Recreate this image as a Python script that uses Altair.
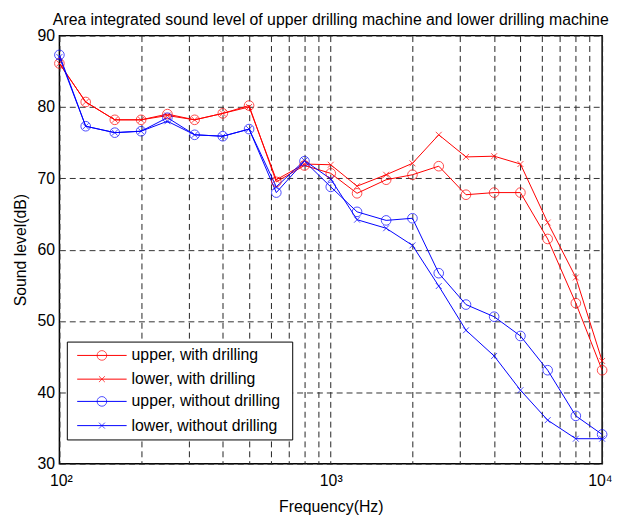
import altair as alt
import pandas as pd

freq = [100, 125, 160, 200, 250, 315, 400, 500, 630, 800, 1000, 1250, 1600,
        2000, 2500, 3150, 4000, 5000, 6300, 8000, 10000]
upper_with = [86.1, 80.7, 78.2, 78.2, 79.0, 78.2, 79.1, 80.2, 69.5, 71.8, 70.7,
              67.9, 69.8, 70.5, 71.7, 67.7, 68.0, 68.0, 61.5, 52.5, 43.1]
lower_with = [86.1, 80.7, 78.2, 78.2, 78.8, 78.2, 79.1, 80.0, 69.8, 72.0, 71.9,
              68.9, 70.5, 72.1, 76.1, 73.0, 73.1, 72.0, 63.8, 56.1, 44.4]
upper_without = [87.3, 77.3, 76.4, 76.6, 78.5, 76.1, 75.9, 76.9, 68.0, 72.4, 68.8,
                 65.3, 64.1, 64.4, 56.7, 52.3, 50.6, 47.9, 43.1, 36.7, 34.1]
lower_without = [87.0, 77.3, 76.4, 76.6, 78.0, 76.1, 75.9, 76.9, 68.8, 72.5, 69.9,
                 64.2, 63.0, 60.6, 54.9, 48.7, 45.1, 40.3, 36.1, 33.5, 33.5]

series_names = ["upper, with drilling", "lower, with drilling",
                "upper, without drilling", "lower, without drilling"]
series_values = [upper_with, lower_with, upper_without, lower_without]
series_colors = ["#ff0000", "#ff0000", "#0000ff", "#0000ff"]
series_markers = ["o", "x", "o", "x"]

x_ticks = [100, 200, 300, 400, 500, 600, 700, 800, 900, 1000, 2000, 3000, 4000,
           5000, 6000, 7000, 8000, 9000, 10000]
y_ticks = [30, 40, 50, 60, 70, 80, 90]

X_PATH = "M-1,-1L1,1M-1,1L1,-1"
FONT = "Liberation Sans"

rows = []
for i, (name, vals, mk) in enumerate(zip(series_names, series_values, series_markers)):
    for f, v in zip(freq, vals):
        rows.append({"freq": f, "level": v, "series": name, "marker": mk, "order": i})
df = pd.DataFrame(rows)

color_scale = alt.Scale(domain=series_names, range=series_colors)
shape_scale = alt.Scale(domain=["o", "x"], range=["circle", X_PATH])

x_enc = alt.X("freq:Q", scale=alt.Scale(type="log", domain=[100, 10000], nice=False),
              axis=alt.Axis(values=x_ticks, title="Frequency(Hz)",
                            labelExpr="datum.value == 100 ? '10²' : datum.value == 1000 ? '10³' : datum.value == 10000 ? '10⁴' : ''",
                            grid=True, gridDash=[6, 4], gridColor="#222", gridWidth=1,
                            ticks=False, domain=False, labelPadding=9,
                            labelFontSize=16, titleFontSize=16, titlePadding=10,
                            labelFont=FONT, titleFont=FONT, labelColor="#000",
                            titleColor="#000", titleFontWeight="normal",
                            labelFlush=True, labelFlushOffset=10))
y_enc = alt.Y("level:Q", scale=alt.Scale(domain=[30, 90], nice=False, zero=False),
              axis=alt.Axis(values=y_ticks, title="Sound level(dB)", grid=True,
                            gridDash=[6, 4], gridColor="#333", gridWidth=1,
                            ticks=False, domain=False, labelPadding=5,
                            labelFontSize=16, titleFontSize=16, titlePadding=8,
                            labelFont=FONT, titleFont=FONT, labelColor="#000",
                            titleColor="#000", titleFontWeight="normal",
                            labelFlush=False))

base = alt.Chart(df)
lines = base.mark_line(strokeWidth=1).encode(
    x=x_enc, y=y_enc,
    color=alt.Color("series:N", scale=color_scale, legend=None),
    detail="series:N",
    order=alt.Order("freq:Q"),
)
points = base.mark_point(filled=False, strokeWidth=1).encode(
    x="freq:Q", y="level:Q",
    color=alt.Color("series:N", scale=color_scale, legend=None),
    shape=alt.Shape("marker:N", scale=shape_scale, legend=None),
    size=alt.condition(alt.datum.marker == "o", alt.value(95), alt.value(36)),
)

# legend box
leg_df = pd.DataFrame({"a": [0]})
layers = [lines, points]
layers.append(alt.Chart(leg_df).mark_rect(fill="white", stroke="black", strokeWidth=1).encode(
    x=alt.value(8), x2=alt.value(236), y=alt.value(310), y2=alt.value(409)))
row_y = [323.5, 347.5, 370, 394.5]
for name, col, mk, yy in zip(series_names, series_colors, series_markers, row_y):
    layers.append(alt.Chart(leg_df).mark_rule(color=col, strokeWidth=1).encode(
        x=alt.value(18), x2=alt.value(68), y=alt.value(yy)))
    layers.append(alt.Chart(leg_df).mark_point(
        filled=False, color=col, strokeWidth=1,
        shape="circle" if mk == "o" else X_PATH,
        size=95 if mk == "o" else 36).encode(x=alt.value(43), y=alt.value(yy)))
    layers.append(alt.Chart(pd.DataFrame({"t": [name]})).mark_text(
        align="left", baseline="middle", fontSize=16, font=FONT, color="#000").encode(
        x=alt.value(73), y=alt.value(yy), text="t:N"))

chart = alt.layer(*layers).properties(
    width=549, height=433,
    title=alt.TitleParams(
        "Area integrated sound level of upper drilling machine and lower drilling machine",
        fontSize=16, font=FONT, fontWeight="normal", color="#000", anchor="middle", offset=0),
    autosize=alt.AutoSizeParams(type="none"),
    padding={"left": 52, "top": 25, "right": 11, "bottom": 52},
).configure_view(stroke="black", strokeWidth=1.5)

chart.save("out.html", embed_options={"renderer": "svg", "actions": False})
